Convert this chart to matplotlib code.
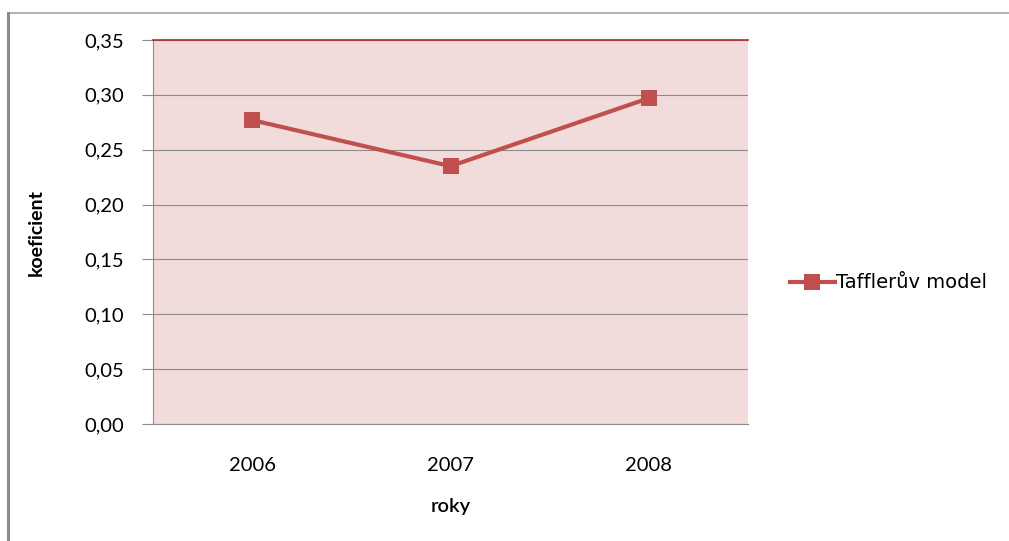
import matplotlib
matplotlib.use("Agg")
import matplotlib.pyplot as plt
from matplotlib.lines import Line2D

years = ["2006", "2007", "2008"]
taffler = [0.277, 0.235, 0.297]
yticks = [0.00, 0.05, 0.10, 0.15, 0.20, 0.25, 0.30, 0.35]
ytick_labels = ["0,00", "0,05", "0,10", "0,15", "0,20", "0,25", "0,30", "0,35"]
series_name = "Tafflerův model"

plt.rcParams["font.family"] = ["Lato", "DejaVu Sans"]

W, H = 1009, 541
fig = plt.figure(figsize=(W / 100, H / 100), dpi=100)
fig.patch.set_facecolor("white")

# outer chart frame: top and left edges
fig.add_artist(Line2D([8 / W, 1], [1 - 13 / H, 1 - 13 / H], color="#A6A6A6", lw=1.2))
fig.add_artist(Line2D([8 / W, 8 / W], [0, 1 - 13 / H], color="#8C8C8C", lw=2.2))

left, right, top, bottom = 153, 748, 40, 424
ax = fig.add_axes([left / W, 1 - bottom / H, (right - left) / W, (bottom - top) / H])
ax.set_facecolor("#F2DCDB")

x = list(range(len(years)))
ax.plot(x, taffler, color="#C0504D", lw=3, marker="s", markersize=12,
        markeredgewidth=0, label=series_name, zorder=3)

ax.set_xlim(-0.5, len(years) - 0.5)
ax.set_ylim(0, 0.35)
ax.set_yticks(yticks)
ax.set_yticklabels(ytick_labels)
ax.set_xticks(x)
ax.set_xticklabels(years)
ax.yaxis.grid(True, color="#8C8C8C", lw=0.8)
ax.set_axisbelow(True)

ax.spines["right"].set_visible(False)
ax.spines["top"].set_color("#A5302D")
ax.spines["top"].set_linewidth(1.2)
ax.spines["left"].set_color("#8C8C8C")
ax.spines["bottom"].set_color("#8C8C8C")

ax.tick_params(axis="y", length=8, width=0.8, color="#8C8C8C", labelsize=14.5, pad=13)
ax.tick_params(axis="x", length=0, labelsize=14.5, pad=24)

ax.set_ylabel("koeficient", fontsize=14, fontweight="bold", labelpad=28)
ax.set_xlabel("roky", fontsize=14.5, fontweight="semibold", labelpad=17)

ax.legend(loc="center left", bbox_to_anchor=(782 / W, 1 - 283 / H),
          bbox_transform=fig.transFigure, frameon=False,
          prop={"family": "DejaVu Sans", "size": 14},
          handlelength=2.3, handletextpad=0.1, borderaxespad=0)

fig.savefig("out.png", dpi=100)
